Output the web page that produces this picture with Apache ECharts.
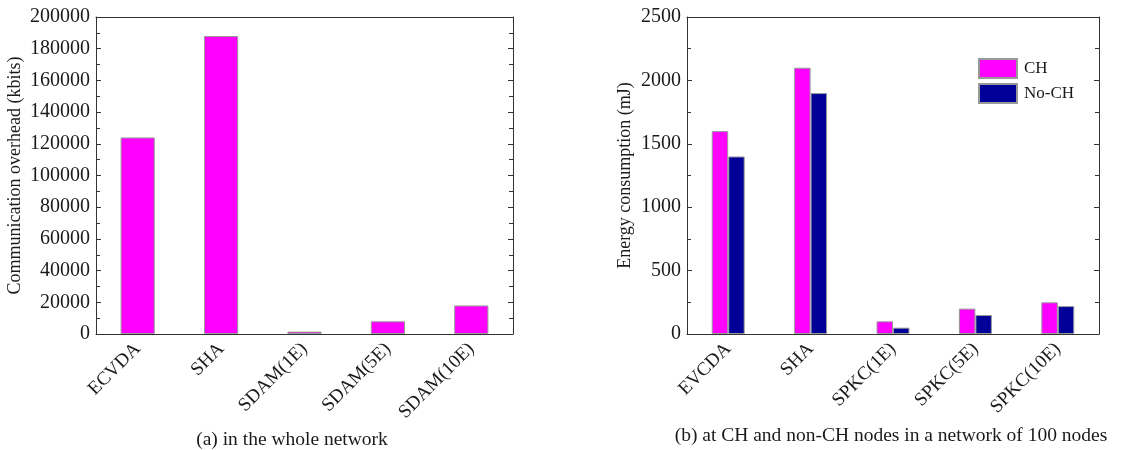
<!DOCTYPE html>
<html>
<head>
<meta charset="utf-8">
<script src="https://cdn.jsdelivr.net/npm/echarts@6/dist/echarts.min.js"></script>
<style>
  html, body { margin: 0; padding: 0; background: #fff; }
  #main { width: 1133px; height: 450px; }
</style>
</head>
<body>
<div id="main"></div>
<script>
// data
var catsA = ['ECVDA', 'SHA', 'SDAM(1E)', 'SDAM(5E)', 'SDAM(10E)'];
var overheadA = [124000, 188000, 1500, 8000, 18000];

var catsB = ['EVCDA', 'SHA', 'SPKC(1E)', 'SPKC(5E)', 'SPKC(10E)'];
var energyCH = [1600, 2100, 100, 200, 250];
var energyNoCH = [1400, 1900, 50, 150, 220];

var font = 'Liberation Serif';
var ink = '#1a1a1a';
var lineCol = '#333';

var chart = echarts.init(document.getElementById('main'));

// bottom/top category axes for one grid
function xAxes(grid, cats) {
    return [
        {   // labels + boundary ticks
            type: 'category', gridIndex: grid, data: cats, position: 'bottom',
            axisLine: { lineStyle: { color: lineCol, width: 1 } },
            axisTick: { inside: true, length: 5, lineStyle: { color: lineCol } },
            axisLabel: { rotate: 45, fontFamily: font, fontSize: 19, color: ink, margin: 12 }
        },
        {   // center ticks
            type: 'category', gridIndex: grid, data: cats, position: 'bottom',
            axisLine: { show: false },
            axisTick: { inside: true, length: 5, alignWithLabel: true, lineStyle: { color: lineCol } },
            axisLabel: { show: false }
        },
        {   // top frame
            type: 'category', gridIndex: grid, data: cats, position: 'top',
            axisLine: { lineStyle: { color: lineCol, width: 1 } },
            axisTick: { inside: true, length: 5, lineStyle: { color: lineCol } },
            axisLabel: { show: false }
        }
    ];
}

function yAxes(grid, max, step, name, gap) {
    return [
        {
            type: 'value', gridIndex: grid, position: 'left', min: 0, max: max, interval: step,
            name: name, nameLocation: 'middle', nameGap: gap,
            nameTextStyle: { fontFamily: font, fontSize: 18, color: ink },
            axisLine: { show: true, lineStyle: { color: lineCol, width: 1 } },
            axisTick: { show: true, inside: true, length: 5, lineStyle: { color: lineCol } },
            minorTick: { show: true, splitNumber: 2, length: 4, lineStyle: { color: lineCol } },
            splitLine: { show: false },
            axisLabel: {
                fontFamily: font, fontSize: 20, color: ink, margin: 6,
                formatter: function (v) { return String(v); }
            }
        },
        {
            type: 'value', gridIndex: grid, position: 'right', min: 0, max: max, interval: step,
            axisLine: { show: true, lineStyle: { color: lineCol, width: 1 } },
            axisTick: { show: true, inside: true, length: 5, lineStyle: { color: lineCol } },
            minorTick: { show: true, splitNumber: 2, length: 4, lineStyle: { color: lineCol } },
            splitLine: { show: false },
            axisLabel: { show: false }
        }
    ];
}

var option = {
    backgroundColor: '#fff',
    animation: false,
    title: [
        { text: '(a) in the whole network', left: 287, top: 425, textAlign: 'center',
          textStyle: { fontFamily: font, fontSize: 19.5, fontWeight: 'normal', color: ink } },
        { text: '(b) at CH and non-CH nodes in a network of 100 nodes', left: 886, top: 421, textAlign: 'center',
          textStyle: { fontFamily: font, fontSize: 19.5, fontWeight: 'normal', color: ink } }
    ],
    legend: {
        data: ['CH', 'No-CH'],
        orient: 'vertical',
        left: 973, top: 53,
        itemWidth: 38, itemHeight: 19, itemGap: 4,
        icon: 'rect',
        textStyle: { fontFamily: font, fontSize: 17, color: ink, padding: [0, 0, 0, 2] }
    },
    grid: [
        { left: 96, top: 17, width: 417, height: 317 },
        { left: 687, top: 17, width: 412, height: 317 }
    ],
    xAxis: xAxes(0, catsA).concat(xAxes(1, catsB)),
    yAxis: yAxes(0, 200000, 20000, 'Communication overhead (kbits)', 72)
        .concat(yAxes(1, 2500, 500, 'Energy consumption (mJ)', 53)),
    series: [
        {
            name: 'overhead', type: 'bar', xAxisIndex: 0, yAxisIndex: 0,
            data: overheadA, barWidth: '41%',
            itemStyle: { color: '#ff00ff', borderColor: '#999', borderWidth: 1 }
        },
        {
            name: 'CH', type: 'bar', xAxisIndex: 3, yAxisIndex: 2,
            data: energyCH, barWidth: '20%', barGap: '0%',
            itemStyle: { color: '#ff00ff', borderColor: '#999', borderWidth: 1 }
        },
        {
            name: 'No-CH', type: 'bar', xAxisIndex: 3, yAxisIndex: 2,
            data: energyNoCH, barWidth: '20%', barGap: '0%',
            itemStyle: { color: '#000099', borderColor: '#999', borderWidth: 1 }
        }
    ]
};

chart.setOption(option);
</script>
</body>
</html>
